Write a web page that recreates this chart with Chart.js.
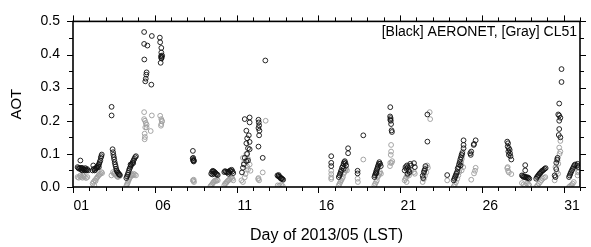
<!DOCTYPE html>
<html>
<head>
<meta charset="utf-8">
<script src="https://cdn.jsdelivr.net/npm/chart.js@4/dist/chart.umd.min.js"></script>
<style>
  body { margin: 0; background: #fff; }
  #wrap { width: 591px; height: 247px; }
</style>
</head>
<body>
<div id="wrap"><canvas id="aotChart" width="591" height="247"></canvas></div>
<script>
// AOT time series, May 2013 (day of month, LST)
var xTickDays = [1, 6, 11, 16, 21, 26, 31];
var yTickValues = [0.0, 0.1, 0.2, 0.3, 0.4, 0.5];

// [Black] AERONET
var aeronetDay = [
  1.45, 1.28, 1.33, 1.38, 1.43, 1.48, 1.52, 1.57, 1.62, 1.67, 1.72, 1.77, 1.82, 1.87, 1.92, 1.55, 1.75,
  2.20, 2.24, 2.28, 2.32, 2.36, 2.40, 2.44, 2.48, 2.52, 2.56, 2.60, 2.63, 2.67, 2.70, 2.73, 2.76, 2.58,
  3.36, 3.36, 3.42, 3.45, 3.47, 3.50, 3.52, 3.55, 3.58, 3.61, 3.64, 3.67, 3.71, 3.75, 3.79, 3.83, 3.87,
  4.26, 4.30, 4.34, 4.38, 4.42, 4.46, 4.50, 4.55, 4.60, 4.65, 4.70, 4.75, 4.80, 4.85, 4.52, 4.68,
  5.35, 5.35, 5.55, 5.82, 5.36, 5.50, 5.48, 5.45, 5.42, 5.79,
  6.31, 6.33, 6.40, 6.40, 6.38, 6.40, 6.43, 6.41, 6.45, 6.36,
  8.33, 8.32, 8.34, 8.36, 8.38, 8.35, 8.40,
  9.45, 9.50, 9.55, 9.60, 9.65, 9.70, 9.75, 9.80, 9.85, 9.52, 9.62,
  10.25, 10.30, 10.35, 10.42, 10.48, 10.55, 10.60, 10.65, 10.70, 10.75, 10.80, 10.50,
  11.33, 11.39, 11.45, 11.60, 11.50, 11.70, 11.65, 11.80, 11.70, 11.80, 11.60, 11.65, 11.75, 11.60, 11.80, 11.80, 11.50,
  12.34, 12.36, 12.38, 12.34, 12.40, 12.38, 12.34, 12.60, 12.76,
  13.50, 13.55, 13.60, 13.65, 13.70, 13.75, 13.80, 13.85, 13.58, 13.72,
  16.79, 16.79, 16.79,
  17.25, 17.30, 17.33, 17.37, 17.40, 17.45, 17.50, 17.55, 17.58, 17.62, 17.66, 17.55, 17.82, 17.82, 17.70,
  18.40, 18.40, 18.75,
  19.43, 19.46, 19.50, 19.53, 19.56, 19.60, 19.63, 19.66, 19.70, 19.73, 19.78, 19.82, 19.55,
  20.40, 20.39, 20.42, 20.40, 20.43, 20.45, 20.48, 20.50,
  21.28, 21.33, 21.38, 21.42, 21.47, 21.52, 21.57, 21.62, 21.67, 21.85, 21.90, 21.45,
  22.41, 22.38, 22.45, 22.48, 22.52, 22.55, 22.67, 22.67,
  23.88,
  24.28, 24.32, 24.36, 24.40, 24.44, 24.48, 24.52, 24.56, 24.60, 24.64, 24.68, 24.72, 24.76, 24.80, 24.88, 24.88, 24.88, 24.70,
  25.29, 25.32, 25.35, 25.50, 25.62, 25.52,
  27.55, 27.60, 27.58, 27.65, 27.70, 27.62, 27.72, 27.65, 27.75, 27.80,
  28.65, 28.65, 28.45, 28.50, 28.55, 28.60, 28.65, 28.70, 28.75, 28.80, 28.85, 28.90,
  29.32, 29.37, 29.42, 29.47, 29.52, 29.57, 29.62, 29.67, 29.72, 29.78, 29.84, 29.90,
  30.87, 30.87, 30.73, 30.67, 30.73, 30.80, 30.73, 30.73, 30.70, 30.80, 30.63, 30.60, 30.55, 30.55, 30.45, 30.50,
  31.33, 31.37, 31.41, 31.45, 31.50, 31.55, 31.60, 31.65, 31.70, 31.85, 31.82, 31.90
];
var aeronetAot = [
  .080, .060, .057, .055, .058, .055, .052, .050, .055, .052, .050, .053, .050, .054, .050, .058, .057,
  .050, .065, .055, .050, .052, .056, .060, .058, .063, .066, .070, .075, .080, .088, .093, .098, .060,
  .242, .216, .114, .105, .097, .090, .083, .075, .068, .062, .055, .050, .046, .043, .040, .038, .036,
  .027, .032, .037, .043, .050, .055, .060, .065, .070, .075, .080, .085, .090, .093, .068, .072,
  .468, .432, .427, .456, .385, .346, .339, .327, .319, .309,
  .451, .437, .420, .406, .395, .390, .393, .388, .397, .375,
  .109, .086, .082, .079, .077, .088, .080,
  .040, .046, .049, .047, .045, .043, .040, .038, .036, .038, .040,
  .045, .048, .046, .044, .046, .045, .050, .048, .052, .047, .042, .040,
  .044, .058, .068, .078, .088, .080, .100, .114, .117, .136, .132, .147, .156, .170, .195, .210, .205,
  .203, .195, .186, .178, .170, .156, .122, .088, .382,
  .035, .033, .031, .030, .028, .026, .024, .022, .036, .025,
  .093, .073, .063,
  .030, .035, .040, .045, .050, .058, .063, .070, .075, .078, .072, .055, .117, .102, .065,
  .049, .041, .156,
  .030, .035, .040, .045, .050, .055, .060, .065, .070, .075, .070, .063, .042,
  .241, .213, .208, .203, .200, .190, .171, .166,
  .050, .060, .055, .065, .060, .050, .045, .070, .065, .072, .060, .040,
  .027, .034, .044, .049, .054, .063, .137, .219,
  .036,
  .020, .025, .030, .035, .040, .045, .055, .060, .068, .075, .083, .090, .097, .102, .141, .127, .117, .065,
  .102, .097, .107, .127, .141, .130,
  .137, .132, .122, .117, .112, .107, .102, .097, .093, .083,
  .066, .050, .035, .033, .030, .032, .030, .028, .030, .027, .028, .025,
  .025, .030, .033, .036, .040, .042, .045, .048, .050, .052, .055, .057,
  .356, .317, .252, .219, .216, .209, .200, .175, .157, .150, .088, .083, .073, .054, .035, .030,
  .030, .035, .040, .045, .050, .055, .060, .065, .068, .070, .065, .060
];

// [Gray] CL51
var cl51Day = [
  1.28, 1.35, 1.42, 1.50, 1.58, 1.65, 1.72, 1.80, 1.88, 1.45, 1.62,
  2.20, 2.25, 2.30, 2.33, 2.38, 2.42, 2.47, 2.52, 2.57, 2.62, 2.68, 2.74, 2.78,
  3.35, 3.45, 3.50, 3.55, 3.60, 3.65, 3.70, 3.75, 3.80, 3.85,
  4.26, 4.30, 4.34, 4.38, 4.42, 4.46, 4.50, 4.55, 4.60, 4.65, 4.70, 4.78, 4.85,
  5.35, 5.35, 5.40, 5.45, 5.50, 5.42, 5.38, 5.40, 5.38, 5.50, 5.82, 5.75,
  6.33, 6.40, 6.43, 6.40, 6.38, 6.45,
  8.33, 8.36, 8.40, 8.38,
  9.40, 9.45, 9.50, 9.55, 9.60, 9.65, 9.70, 9.75, 9.80, 9.85,
  10.25, 10.30, 10.35, 10.40, 10.45, 10.50, 10.55, 10.60, 10.65, 10.70, 10.75, 10.80,
  11.39, 11.60, 11.70, 11.80, 11.85, 11.70, 11.50, 11.39, 11.30, 11.55, 11.65, 11.45,
  12.78, 12.60, 12.34, 12.38, 12.32,
  13.52, 13.62, 13.72, 13.82,
  16.79, 16.79, 16.79, 16.79,
  17.25, 17.30, 17.35, 17.40, 17.45, 17.50, 17.55, 17.60, 17.65, 17.70, 17.75,
  18.40, 18.42, 18.75,
  19.43, 19.48, 19.53, 19.58, 19.63, 19.68, 19.73, 19.78, 19.83,
  20.45, 20.45, 20.43, 20.52, 20.40, 20.38, 20.48,
  21.28, 21.33, 21.38, 21.45, 21.50, 21.55, 21.62, 21.68, 21.85, 21.90, 21.40,
  22.81, 22.84, 22.66, 22.70, 22.60, 22.52, 22.45, 22.38,
  23.88,
  24.28, 24.35, 24.42, 24.50, 24.56, 24.62, 24.66, 24.70, 24.74, 24.78, 24.80, 24.82, 24.86, 24.76,
  25.62, 25.58, 25.52, 25.35,
  27.55, 27.60, 27.65, 27.80, 27.58,
  28.45, 28.55, 28.65, 28.75, 28.85, 28.90,
  29.32, 29.40, 29.48, 29.56, 29.64, 29.72, 29.80, 29.88,
  30.80, 30.73, 30.80, 30.75, 30.63, 30.67, 30.50, 30.58, 30.66, 30.45,
  31.33, 31.40, 31.48, 31.55, 31.62, 31.88, 31.85, 31.90
];
var cl51Aot = [
  .030, .028, .032, .030, .028, .032, .030, .027, .030, .035, .036,
  .010, .015, .005, .020, .018, .025, .028, .032, .035, .038, .040, .045, .042,
  .035, .045, .040, .042, .038, .035, .032, .030, .035, .033,
  .003, .008, .012, .018, .022, .027, .030, .035, .038, .035, .040, .038, .035,
  .226, .205, .200, .193, .188, .180, .161, .151, .144, .180, .216, .169,
  .215, .205, .200, .190, .185, .198,
  .020, .018, .015, .022,
  .002, .005, .008, .012, .015, .018, .020, .018, .022, .020,
  .005, .010, .012, .015, .018, .020, .022, .025, .028, .030, .025, .020,
  .088, .100, .085, .068, .049, .053, .029, .015, .020, .039, .062, .072,
  .200, .044, .027, .020, .024,
  .005, .004, .006, .003,
  .049, .039, .029, .024,
  .005, .010, .015, .020, .025, .030, .040, .045, .050, .055, .050,
  .025, .015, .083,
  .005, .010, .015, .020, .030, .035, .040, .045, .040,
  .127, .107, .097, .078, .073, .063, .073,
  .020, .025, .030, .035, .040, .035, .045, .050, .045, .040, .015,
  .226, .205, .065, .058, .044, .034, .024, .015,
  .020,
  .002, .008, .015, .025, .035, .045, .055, .065, .075, .085, .095, .107, .060, .050,
  .058, .049, .041, .022,
  .057, .049, .044, .039, .060,
  .012, .008, .005, .010, .008, .005,
  .000, .005, .010, .015, .020, .025, .028, .030,
  .139, .119, .107, .100, .080, .070, .060, .046, .040, .020,
  .000, .003, .006, .010, .015, .044, .035, .050
];

var FONT = "'Liberation Sans', Arial, sans-serif";

function toPoints(days, values) {
  var pts = [];
  for (var i = 0; i < days.length; i++) {
    pts.push({ x: days[i], y: values[i] });
  }
  return pts;
}

// frame, tick marks on all four sides and the legend text
var framePlugin = {
  id: 'frame',
  afterDraw: function(chart) {
    var ctx = chart.ctx;
    var area = chart.chartArea;
    var xs = chart.scales.x;
    var ys = chart.scales.y;
    ctx.save();
    ctx.strokeStyle = '#000';
    ctx.lineWidth = 1;
    ctx.beginPath();
    for (var d = 1; d <= 32; d++) {
      var px = Math.round(xs.getPixelForValue(d)) + 0.5;
      var len = xTickDays.indexOf(d) >= 0 ? 6 : 4;
      ctx.moveTo(px, area.bottom); ctx.lineTo(px, area.bottom + len);
      ctx.moveTo(px, area.top); ctx.lineTo(px, area.top - len);
    }
    for (var k = 0; k <= 10; k++) {
      var v = k * 0.05;
      var py = Math.round(ys.getPixelForValue(v)) + 0.5;
      var l2 = k % 2 === 0 ? 6 : 4;
      ctx.moveTo(area.left, py); ctx.lineTo(area.left - l2, py);
      ctx.moveTo(area.right, py); ctx.lineTo(area.right + l2, py);
    }
    ctx.stroke();
    ctx.lineWidth = 1.6;
    ctx.strokeRect(area.left, area.top, area.right - area.left, area.bottom - area.top);

    ctx.fillStyle = '#000';
    ctx.font = '14px ' + FONT;
    ctx.textAlign = 'right';
    ctx.textBaseline = 'middle';
    ctx.fillText('[Black] AERONET, [Gray] CL51', area.right - 3, area.top + 11);
    ctx.restore();
  }
};

var aotChart = new Chart(document.getElementById('aotChart'), {
  type: 'scatter',
  data: {
    datasets: [{
      label: 'AERONET',
      data: toPoints(aeronetDay, aeronetAot),
      borderColor: 'rgba(15,15,15,0.9)',
      backgroundColor: 'rgba(0,0,0,0)',
      pointRadius: 2.4,
      borderWidth: 1,
      order: 1
    }, {
      label: 'CL51',
      data: toPoints(cl51Day, cl51Aot),
      borderColor: 'rgba(160,160,160,0.95)',
      backgroundColor: 'rgba(0,0,0,0)',
      pointRadius: 2.4,
      borderWidth: 1,
      order: 2
    }]
  },
  options: {
    responsive: false,
    animation: false,
    devicePixelRatio: 1,
    layout: { padding: { top: 16, right: 5, left: 0, bottom: 0 } },
    plugins: {
      legend: { display: false },
      tooltip: { enabled: false }
    },
    scales: {
      x: {
        type: 'linear',
        min: 1,
        max: 32,
        afterFit: function(scale) { scale.height = 60; },
        afterBuildTicks: function(scale) {
          var t = [];
          for (var d = 1; d <= 32; d++) t.push({ value: d });
          scale.ticks = t;
        },
        grid: { display: false, drawTicks: false },
        border: { display: false },
        ticks: {
          autoSkip: false,
          maxRotation: 0,
          padding: 11,
          labelOffset: 8.3,
          color: '#000',
          font: { family: FONT, size: 14 },
          callback: function(v) {
            return xTickDays.indexOf(v) >= 0 ? (v < 10 ? '0' + v : '' + v) : '';
          }
        },
        title: {
          display: true,
          text: 'Day of 2013/05 (LST)',
          color: '#000',
          font: { family: FONT, size: 16 },
          padding: { top: 2, bottom: 2 }
        }
      },
      y: {
        min: 0,
        max: 0.5,
        afterFit: function(scale) { scale.width = 73; },
        afterBuildTicks: function(scale) {
          scale.ticks = yTickValues.map(function(v) { return { value: v }; });
        },
        grid: { display: false, drawTicks: false },
        border: { display: false },
        ticks: {
          padding: 13,
          color: '#000',
          font: { family: FONT, size: 14 },
          callback: function(v) { return v.toFixed(1); }
        },
        title: {
          display: true,
          text: 'AOT',
          color: '#000',
          font: { family: FONT, size: 15 },
          padding: { top: 8, bottom: 0 }
        }
      }
    }
  },
  plugins: [framePlugin]
});
</script>
</body>
</html>
